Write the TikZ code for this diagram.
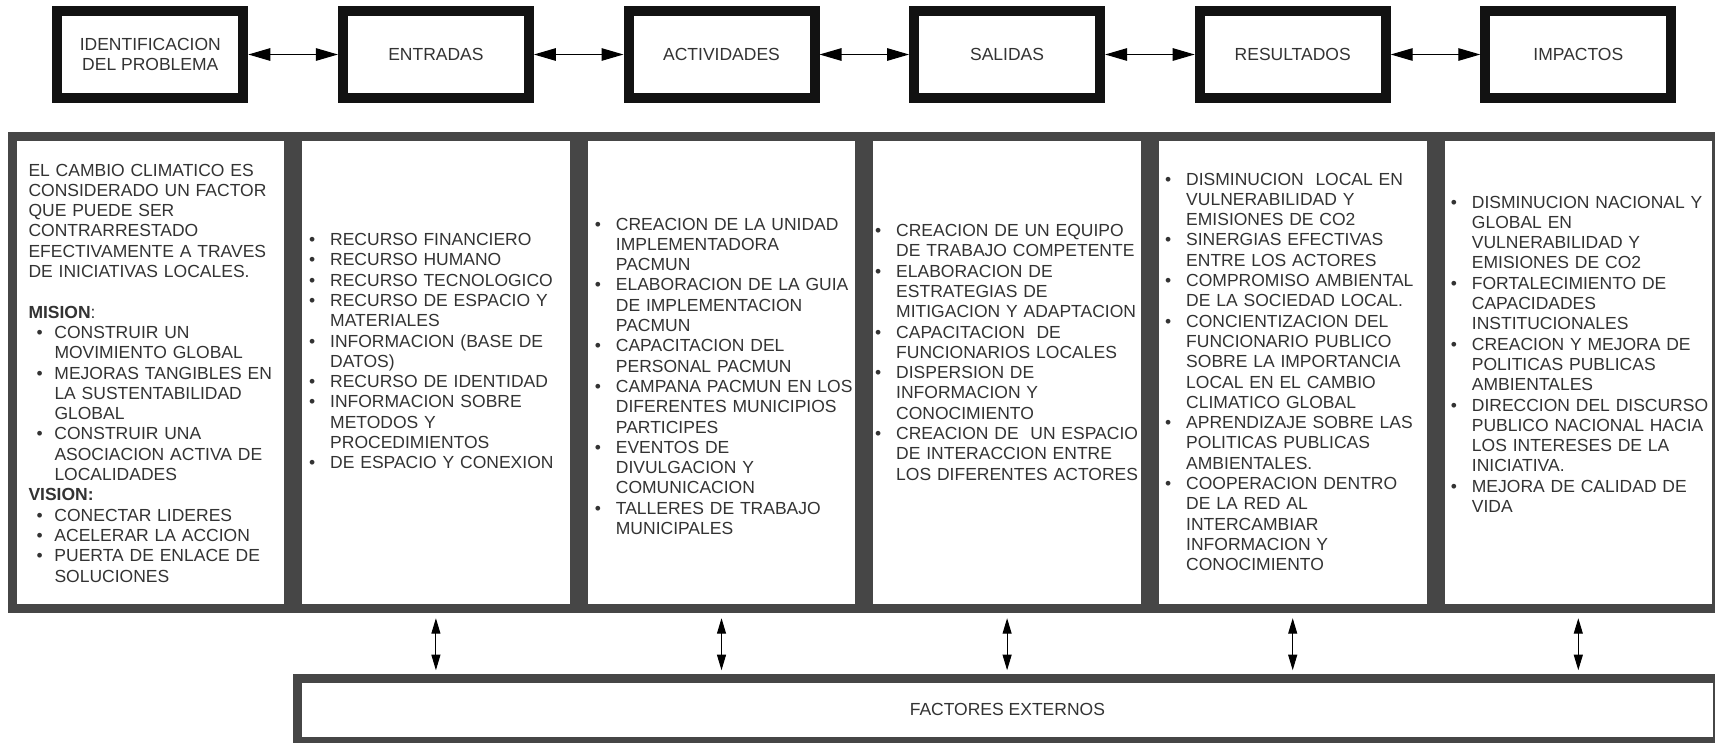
\documentclass[tikz,border=0pt]{standalone}
\usepackage{fontspec}
\setmainfont{Liberation Sans}
\usetikzlibrary{arrows.meta, positioning, calc}

\definecolor{boxblack}{RGB}{18,18,18}
\definecolor{colgray}{RGB}{70,70,70}
\definecolor{txtgray}{RGB}{51,51,51}

% one line of a column text: plain, bullet, continuation
\newlength{\bulind}
\newlength{\bulw}
\newcommand{\pline}[1]{\noindent #1\par}
\newcommand{\bitem}[1]{\noindent\hspace*{\bulind}\makebox[\bulw][l]{\textbullet}#1\par}
\newcommand{\bcont}[1]{\noindent\hspace*{\bulind}\hspace*{\bulw}#1\par}

\tikzset{
  stage/.style={draw=boxblack, line width=10pt, fill=white, minimum width=186pt, minimum height=87pt, inner sep=0pt, align=center, text=txtgray},
  column/.style={draw=colgray, line width=9pt, fill=white, minimum width=276.6pt, minimum height=471.7pt, inner sep=0pt, text=txtgray},
  coltext/.style={anchor=base west, inner sep=0pt, text width=300pt, text=txtgray},
  hlink/.style={{Triangle[length=22pt,width=12.5pt]}-{Triangle[length=22pt,width=12.5pt]}, line width=1.2pt},
  vlink/.style={{Triangle[length=15.5pt,width=9pt]}-{Triangle[length=15.5pt,width=9pt]}, line width=1pt, shorten <=5.5pt, shorten >=3.3pt},
}

\begin{document}
\begin{tikzpicture}[x=1pt, y=1pt, font=\fontsize{17.5}{20.3}\selectfont]

\clip (0,0) rectangle (1715,-742);

\def\stagegap{89.6pt}

% stages
\node[stage] (idp) at (150.3,-54.5) {IDENTIFICACION\\DEL PROBLEMA};
\node[stage, right=\stagegap of idp] (ent) {ENTRADAS};
\node[stage, right=\stagegap of ent] (act) {ACTIVIDADES};
\node[stage, right=\stagegap of act] (sal) {SALIDAS};
\node[stage, right=\stagegap of sal] (res) {RESULTADOS};
\node[stage, right=\stagegap of res] (imp) {IMPACTOS};

\foreach \a/\b in {idp/ent, ent/act, act/sal, sal/res, res/imp}
  \draw[hlink] (\a) -- (\b);

% columns
\node[column] (c1) at (150.3,-372.35) {};
\node[column, right=0pt of c1] (c2) {};
\node[column, right=0pt of c2] (c3) {};
\node[column, right=0pt of c3] (c4) {};
\node[column, right=0pt of c4] (c5) {};
\node[column, right=0pt of c5] (c6) {};

% external factors
\node[column, minimum width=1419.7pt, minimum height=63.5pt] (fe) at (1007.35,-709.75) {FACTORES EXTERNOS};

\foreach \c in {c2,c3,c4,c5,c6}
  \draw[vlink] (\c.south) -- (\c.south |- fe.north);

% column texts
\node[coltext] (t1) at (28.3,-176) {\setlength{\bulind}{8pt}\setlength{\bulw}{18pt}%
\pline{EL CAMBIO CLIMATICO ES}
\pline{CONSIDERADO UN FACTOR}
\pline{QUE PUEDE SER}
\pline{CONTRARRESTADO}
\pline{EFECTIVAMENTE A TRAVES}
\pline{DE INICIATIVAS LOCALES.}
\pline{\mbox{}}
\pline{\textbf{MISION}:}
\bitem{CONSTRUIR UN}
\bcont{MOVIMIENTO GLOBAL}
\bitem{MEJORAS TANGIBLES EN}
\bcont{LA SUSTENTABILIDAD}
\bcont{GLOBAL}
\bitem{CONSTRUIR UNA}
\bcont{ASOCIACION ACTIVA DE}
\bcont{LOCALIDADES}
\pline{\textbf{VISION:}}
\bitem{CONECTAR LIDERES}
\bitem{ACELERAR LA ACCION}
\bitem{PUERTA DE ENLACE DE}
\bcont{SOLUCIONES}};

\node[coltext] (t2) at (309,-245.5) {\setlength{\bulind}{0pt}\setlength{\bulw}{21pt}%
\bitem{RECURSO FINANCIERO}
\bitem{RECURSO HUMANO}
\bitem{RECURSO TECNOLOGICO}
\bitem{RECURSO DE ESPACIO Y}
\bcont{MATERIALES}
\bitem{INFORMACION (BASE DE}
\bcont{DATOS)}
\bitem{RECURSO DE IDENTIDAD}
\bitem{INFORMACION SOBRE}
\bcont{METODOS Y}
\bcont{PROCEDIMIENTOS}
\bitem{DE ESPACIO Y CONEXION}};

\node[coltext] (t3) at (594.7,-230) {\setlength{\bulind}{0pt}\setlength{\bulw}{21pt}%
\bitem{CREACION DE LA UNIDAD}
\bcont{IMPLEMENTADORA}
\bcont{PACMUN}
\bitem{ELABORACION DE LA GUIA}
\bcont{DE IMPLEMENTACION}
\bcont{PACMUN}
\bitem{CAPACITACION DEL}
\bcont{PERSONAL PACMUN}
\bitem{CAMPANA PACMUN EN LOS}
\bcont{DIFERENTES MUNICIPIOS}
\bcont{PARTICIPES}
\bitem{EVENTOS DE}
\bcont{DIVULGACION Y}
\bcont{COMUNICACION}
\bitem{TALLERES DE TRABAJO}
\bcont{MUNICIPALES}};

\node[coltext] (t4) at (875,-236.5) {\setlength{\bulind}{0pt}\setlength{\bulw}{21pt}%
\bitem{CREACION DE UN EQUIPO}
\bcont{DE TRABAJO COMPETENTE}
\bitem{ELABORACION DE}
\bcont{ESTRATEGIAS DE}
\bcont{MITIGACION Y ADAPTACION}
\bitem{CAPACITACION\ \ DE}
\bcont{FUNCIONARIOS LOCALES}
\bitem{DISPERSION DE}
\bcont{INFORMACION Y}
\bcont{CONOCIMIENTO}
\bitem{CREACION DE\ \ UN ESPACIO}
\bcont{DE INTERACCION ENTRE}
\bcont{LOS DIFERENTES ACTORES}};

\node[coltext] (t5) at (1165,-185) {\setlength{\bulind}{0pt}\setlength{\bulw}{21pt}%
\bitem{DISMINUCION\ \ LOCAL EN}
\bcont{VULNERABILIDAD Y}
\bcont{EMISIONES DE CO2}
\bitem{SINERGIAS EFECTIVAS}
\bcont{ENTRE LOS ACTORES}
\bitem{COMPROMISO AMBIENTAL}
\bcont{DE LA SOCIEDAD LOCAL.}
\bitem{CONCIENTIZACION DEL}
\bcont{FUNCIONARIO PUBLICO}
\bcont{SOBRE LA IMPORTANCIA}
\bcont{LOCAL EN EL CAMBIO}
\bcont{CLIMATICO GLOBAL}
\bitem{APRENDIZAJE SOBRE LAS}
\bcont{POLITICAS PUBLICAS}
\bcont{AMBIENTALES.}
\bitem{COOPERACION DENTRO}
\bcont{DE LA RED AL}
\bcont{INTERCAMBIAR}
\bcont{INFORMACION Y}
\bcont{CONOCIMIENTO}};

\node[coltext] (t6) at (1450.7,-208) {\setlength{\bulind}{0pt}\setlength{\bulw}{21pt}%
\bitem{DISMINUCION NACIONAL Y}
\bcont{GLOBAL EN}
\bcont{VULNERABILIDAD Y}
\bcont{EMISIONES DE CO2}
\bitem{FORTALECIMIENTO DE}
\bcont{CAPACIDADES}
\bcont{INSTITUCIONALES}
\bitem{CREACION Y MEJORA DE}
\bcont{POLITICAS PUBLICAS}
\bcont{AMBIENTALES}
\bitem{DIRECCION DEL DISCURSO}
\bcont{PUBLICO NACIONAL HACIA}
\bcont{LOS INTERESES DE LA}
\bcont{INICIATIVA.}
\bitem{MEJORA DE CALIDAD DE}
\bcont{VIDA}};

\end{tikzpicture}
\end{document}
